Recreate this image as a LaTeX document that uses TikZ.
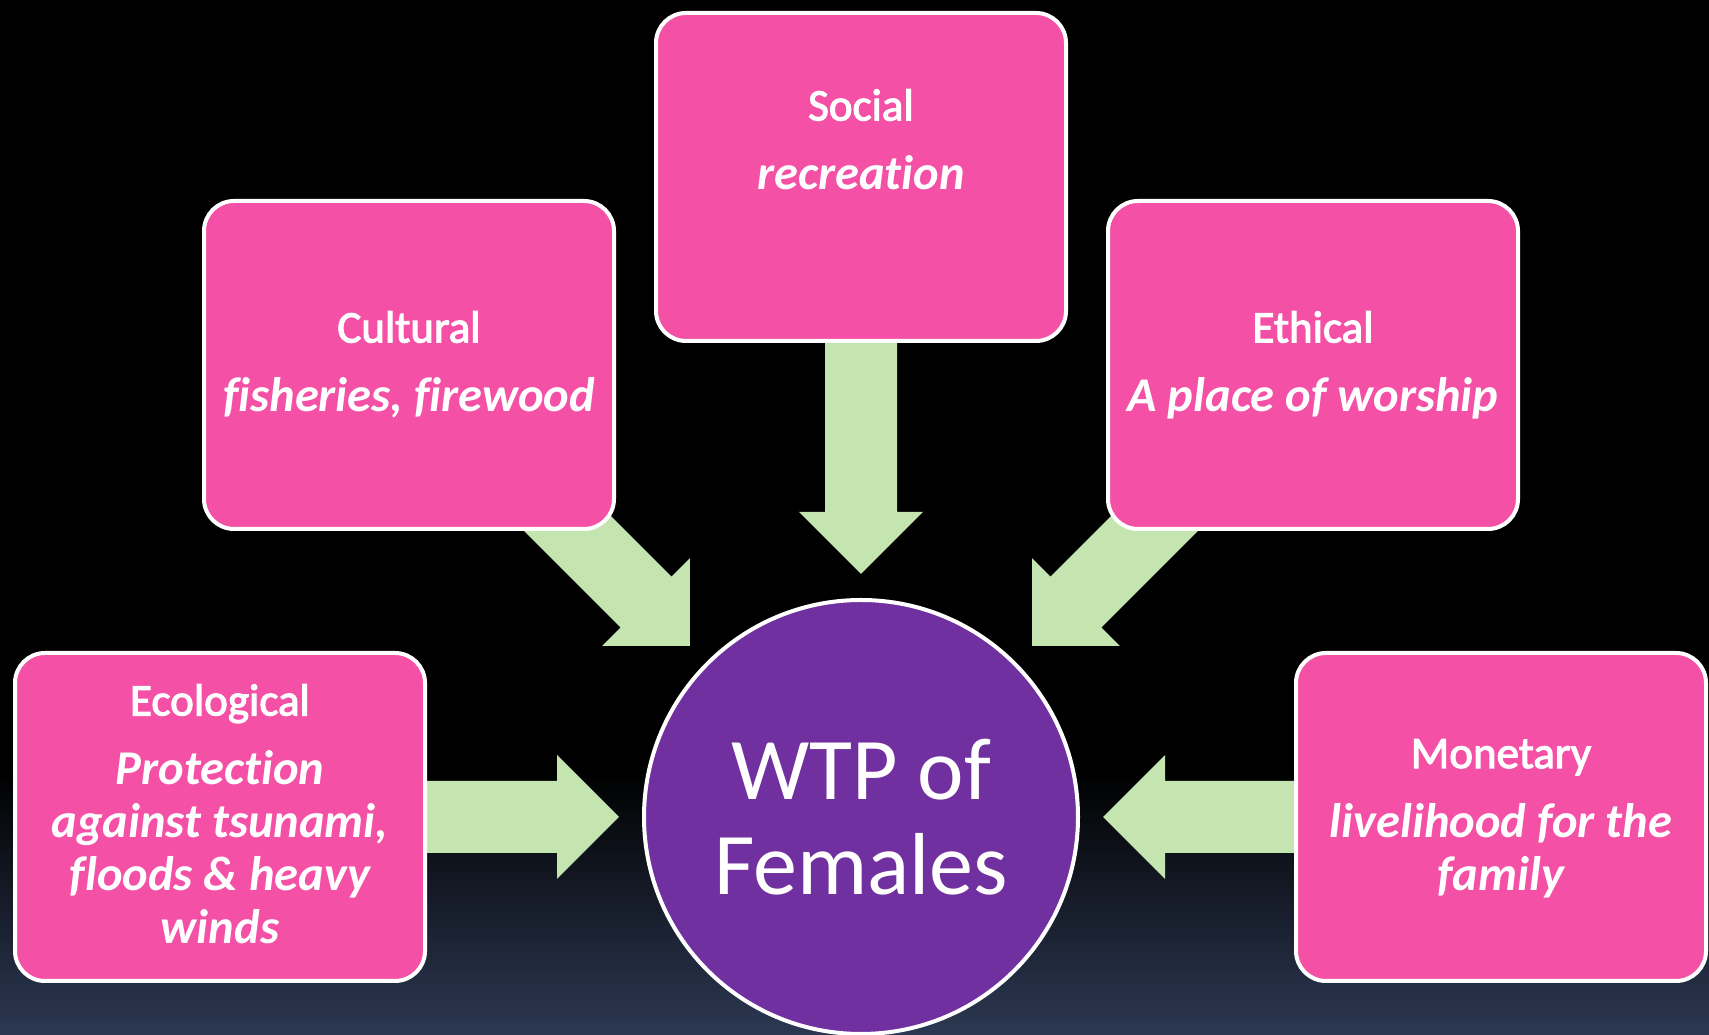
\documentclass[tikz,border=0pt]{standalone}
\usepackage{fontspec}
\setmainfont[Ligatures=NoCommon]{Carlito}
\newfontfamily\titlefont[Ligatures=NoCommon, FakeBold=2.5]{Carlito}
\usetikzlibrary{calc,positioning}
\definecolor{boxpink}{RGB}{244,81,166}
\definecolor{arrgreen}{RGB}{196,229,176}
\definecolor{wtppurple}{RGB}{112,48,160}
\definecolor{bgblue}{RGB}{44,56,82}
\pgfdeclarelayer{back}
\pgfdeclarelayer{mid}
\pgfsetlayers{back,mid,main}

\tikzset{
  valbox/.style={draw=white, line width=4pt, fill=boxpink, rounded corners=30pt,
    minimum width=410pt, minimum height=328pt},
  valtext/.style={text=white, align=center, inner sep=0pt, anchor=north,
    font=\fontsize{48.5}{53}\selectfont\bfseries\itshape},
  arrfill/.style={fill=arrgreen}
}
\newcommand\valtitle[1]{{\titlefont\upshape\mdseries\fontsize{45}{53}\selectfont #1}\\[16pt]}
% block arrow from the centre of a box to a tip
\newcommand\flowarrow[2]{%
  \coordinate (#1-h) at ($(#2)!62pt!(#1.center)$);
  \fill[arrfill] ($(#1.center)!36pt!90:(#2)$) -- ($(#1-h)!36pt!-90:(#1.center)$)
    -- ($(#1-h)!62pt!-90:(#1.center)$) -- (#2) -- ($(#1-h)!62pt!90:(#1.center)$)
    -- ($(#1-h)!36pt!90:(#1.center)$) -- ($(#1.center)!36pt!-90:(#2)$) -- cycle;}

\begin{document}
\begin{tikzpicture}[x=1pt,y=1pt]
\useasboundingbox (0,0) rectangle (1709,1035);
\begin{pgfonlayer}{back}
\fill[black] (0,0) rectangle (1709,1035);
\shade[top color=black, bottom color=bgblue] (0,0) rectangle (1709,265);
\end{pgfonlayer}

% centre
\node[circle, draw=white, line width=4pt, fill=wtppurple, minimum size=434pt,
  text=white, align=center, font=\fontsize{88}{95}\selectfont] (wtp) at (861,218) {WTP of\\Females};

% value boxes
\node[valbox] (soc) at (861,858) {};
\node[valbox] (cul) at (409,670) {};
\node[valbox] (eth) at (1313,670) {};
\node[valbox] (eco) at (220,218) {};
\node[valbox] (mon) at (1501,218) {};

\node[valtext] (soc-t) at ($(soc.north)+(0,-78)$) {\valtitle{Social}recreation};
\node[valtext] (cul-t) at ($(cul.north)+(0,-112)$) {\valtitle{Cultural}fisheries, firewood};
\node[valtext] (eth-t) at ($(eth.north)+(0,-112)$) {\valtitle{Ethical}A place of worship};
\node[valtext] (eco-t) at ($(eco.north)+(0,-33)$) {\valtitle{Ecological}Protection\\against tsunami,\\floods \& heavy\\winds};
\node[valtext] (mon-t) at ($(mon.north)+(0,-88)$) {\valtitle{Monetary}livelihood for the\\family};

% arrows
\begin{pgfonlayer}{mid}
\coordinate (soc-tip) at ($(wtp.center)+(90:243)$);
\coordinate (cul-tip) at ($(wtp.center)+(135:242)$);
\coordinate (eth-tip) at ($(wtp.center)+(45:242)$);
\coordinate (eco-tip) at ($(wtp.center)+(180:242)$);
\coordinate (mon-tip) at ($(wtp.center)+(0:242)$);
\foreach \b in {soc,cul,eth,eco,mon} {\flowarrow{\b}{\b-tip}}
\end{pgfonlayer}
\end{tikzpicture}
\end{document}
